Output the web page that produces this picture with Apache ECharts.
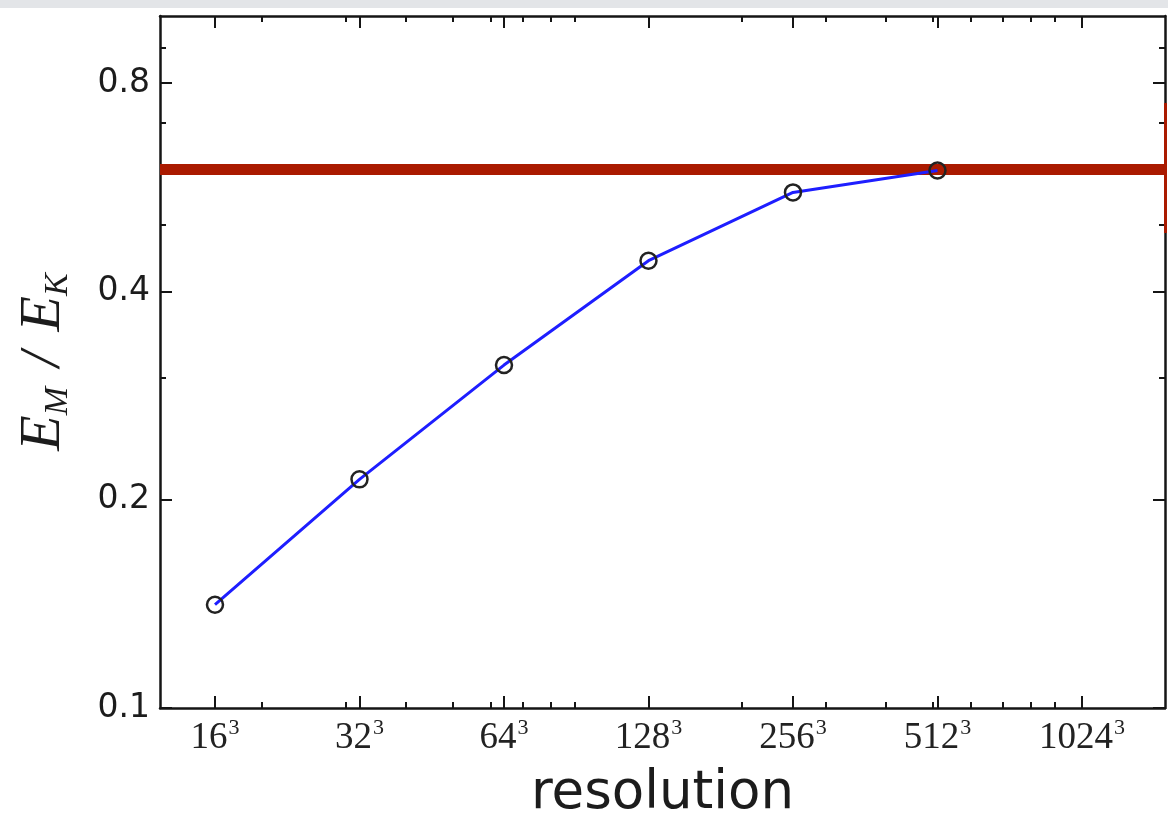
<!DOCTYPE html>
<html>
<head>
<meta charset="utf-8">
<script src="https://cdn.jsdelivr.net/npm/echarts@6/dist/echarts.min.js"></script>
<style>
html,body{margin:0;padding:0;background:#fff;}
#chart{width:1168px;height:821px;}
</style>
</head>
<body>
<div id="chart"></div>
<script>
// ---- data ----
var resolutions = [16, 32, 64, 128, 256, 512];
var ratioEMEK = [0.141, 0.214, 0.313, 0.443, 0.556, 0.598];
var referenceLevel = 0.6;
var xMajorTicks = [16, 32, 64, 128, 256, 512, 1024];
var xMinorTicks = [20, 30, 40, 50, 60, 70, 80, 90, 200, 300, 400, 500, 600, 700, 800, 900];
var yMajorTicks = [0.1, 0.2, 0.4, 0.8];
var yMinorTicks = [0.3, 0.5, 0.6, 0.7, 0.9];
var xRange = [12.29, 1525];
var yRange = [0.1, 1.0];

var chart = echarts.init(document.getElementById('chart'));
var ink = '#151515';

function xAxisDef(pos, ticks, len, showLine, showLabel) {
  return {
    type: 'log', logBase: 2, position: pos, min: xRange[0], max: xRange[1],
    axisLine: {show: showLine, onZero: false, lineStyle: {color: ink, width: 2.5}},
    axisTick: {show: true, inside: true, length: len, customValues: ticks, lineStyle: {color: ink, width: 2}},
    axisLabel: {
      show: showLabel, customValues: ticks, margin: 9, color: ink,
      formatter: function (v) { return '{n|' + Math.round(v) + '}{s|3}'; },
      rich: {
        n: {fontFamily: 'Liberation Serif', fontSize: 37, color: '#222', lineHeight: 40, verticalAlign: 'bottom'},
        s: {fontFamily: 'Liberation Serif', fontSize: 22, color: '#222', lineHeight: 40, verticalAlign: 'top', padding: [0, 0, 0, 1]}
      }
    },
    splitLine: {show: false}, minorTick: {show: false}
  };
}
function yAxisDef(pos, ticks, len, showLine, showLabel) {
  return {
    type: 'log', logBase: 10, position: pos, min: yRange[0], max: yRange[1],
    axisLine: {show: showLine, onZero: false, lineStyle: {color: ink, width: 2.5}},
    axisTick: {show: true, inside: true, length: len, customValues: ticks, lineStyle: {color: ink, width: 2}},
    axisLabel: {
      show: showLabel, customValues: ticks, margin: 10, color: '#1c1c1c',
      fontFamily: 'DejaVu Sans', fontSize: 33,
      formatter: function (v) { return Number(v).toFixed(1); }
    },
    splitLine: {show: false}, minorTick: {show: false}
  };
}

var xAxes = [
  xAxisDef('bottom', xMajorTicks, 12, true, true),
  xAxisDef('bottom', xMinorTicks, 6, false, false),
  xAxisDef('top', xMajorTicks, 12, true, false),
  xAxisDef('top', xMinorTicks, 6, false, false)
];
xAxes[0].name = 'resolution';
xAxes[0].nameLocation = 'middle';
xAxes[0].nameGap = 60;
xAxes[0].nameTextStyle = {fontFamily: 'DejaVu Sans', fontSize: 53, color: '#1c1c1c', verticalAlign: 'top'};

var yAxes = [
  yAxisDef('left', yMajorTicks, 12, true, true),
  yAxisDef('left', yMinorTicks, 6, false, false),
  yAxisDef('right', yMajorTicks, 12, true, false),
  yAxisDef('right', yMinorTicks, 6, false, false)
];
yAxes[0].name = '{e|E}{sub|M}{sl| / }{e|E}{sub|K}';
yAxes[0].nameLocation = 'middle';
yAxes[0].nameGap = 85;
yAxes[0].nameRotate = 90;
yAxes[0].nameTextStyle = {
  rich: {
    e: {fontFamily: 'Liberation Serif', fontStyle: 'italic', fontSize: 58, color: '#1c1c1c', lineHeight: 62, verticalAlign: 'middle'},
    sub: {fontFamily: 'Liberation Serif', fontStyle: 'italic', fontSize: 34, color: '#1c1c1c', lineHeight: 62, verticalAlign: 'bottom'},
    sl: {fontFamily: 'Liberation Serif', fontStyle: 'italic', fontSize: 56, color: '#1c1c1c', lineHeight: 62, verticalAlign: 'middle', padding: [0, 6, 0, 6]}
  }
};

var points = resolutions.map(function (r, i) { return [r, ratioEMEK[i]]; });

chart.setOption({
  animation: false,
  backgroundColor: '#ffffff',
  grid: {left: 160, right: 3, top: 16, bottom: 113, containLabel: false, outerBoundsMode: 'none'},
  xAxis: xAxes,
  yAxis: yAxes,
  graphic: [
    {type: 'rect', shape: {x: 0, y: 0, width: 1168, height: 8}, style: {fill: '#e3e5e8'}, z: 100},
    {type: 'rect', shape: {x: 1164, y: 103, width: 3, height: 130}, style: {fill: '#aa1a00'}, z: 100}
  ],
  series: [
    {
      type: 'line', xAxisIndex: 0, yAxisIndex: 0, data: [], z: 1,
      markLine: {
        silent: true, symbol: ['none', 'none'], label: {show: false},
        lineStyle: {color: '#aa1a00', width: 11, type: 'solid'},
        data: [{yAxis: referenceLevel}]
      }
    },
    {
      type: 'line', xAxisIndex: 0, yAxisIndex: 0, data: points, z: 5,
      lineStyle: {color: '#1e1eff', width: 3},
      symbol: 'circle', symbolSize: 16,
      itemStyle: {color: 'rgba(255,255,255,0)', borderColor: '#222', borderWidth: 2.5}
    }
  ]
});
</script>
</body>
</html>
